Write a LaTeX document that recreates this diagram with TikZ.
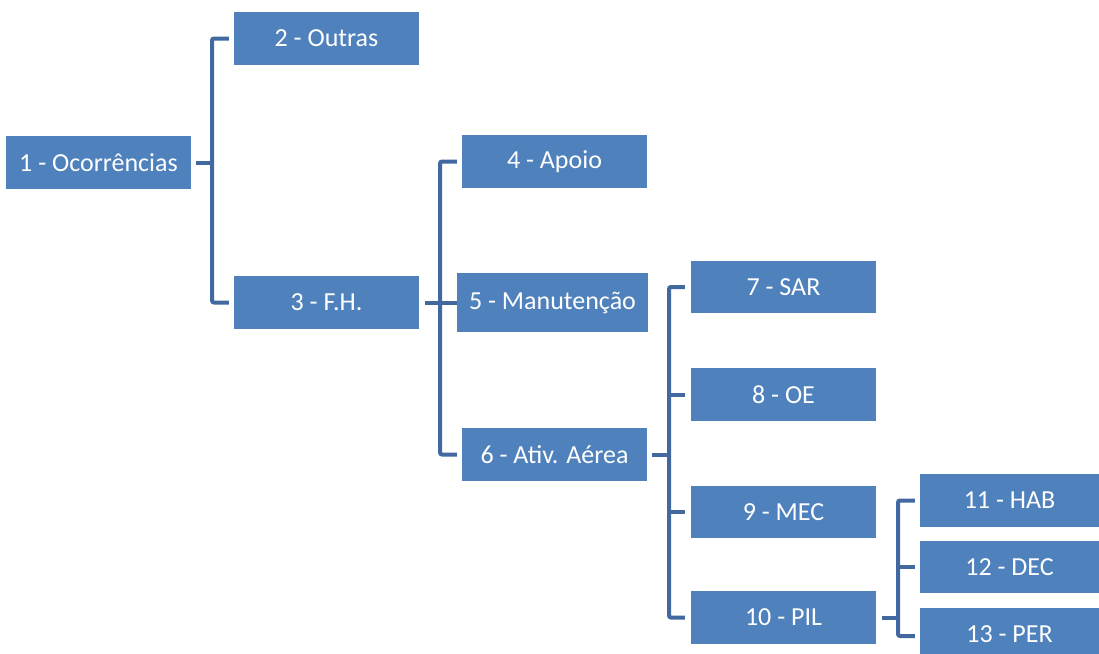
\documentclass[tikz,border=0pt]{standalone}
\usepackage{fontspec}
\setmainfont{Carlito}
\definecolor{boxblue}{HTML}{4F81BD}
\definecolor{lineblue}{HTML}{41699F}
\begin{document}
\begin{tikzpicture}[x=1pt,y=-1pt,
  box/.style={fill=boxblue, draw=none, text=white, inner sep=0pt,
    font=\fontsize{26}{30}\selectfont, minimum width=185pt, minimum height=53pt},
  conn/.style={draw=lineblue, line width=4pt, rounded corners=2pt}]
\useasboundingbox (0,0) rectangle (1099,653);
\clip (0,0) rectangle (1099,653);
\node[box] (n1) at (98.5,162.5) {1 - Ocorrências};
\node[box] (n2) at (326.5,38.5) {2 - Outras};
\node[box] (n3) at (326.5,302.5) {3 - F.H.};
\node[box] (n4) at (554.5,161.5) {4 - Apoio};
\node[box, minimum width=191pt, minimum height=59pt] (n5) at (552.5,302.5) {5 - Manutenção};
\node[box] (n6) at (554.5,454.5) {6 - Ativ. Aérea};
\node[box, minimum height=52pt] (n7) at (783.5,287) {7 - SAR};
\node[box] (n8) at (783.5,394.5) {8 - OE};
\node[box, minimum height=52pt] (n9) at (783.5,512) {9 - MEC};
\node[box] (n10) at (783.5,617.5) {10 - PIL};
\node[box, minimum width=179pt] (n11) at (1009.5,500.5) {11 - HAB};
\node[box, minimum width=179pt, minimum height=52pt] (n12) at (1009.5,567) {12 - DEC};
\node[box, minimum width=179pt] (n13) at (1009.5,634.5) {13 - PER};
% bracket x positions
\coordinate (b1) at (212,0);
\coordinate (b2) at (440,0);
\coordinate (b3) at (669,0);
\coordinate (b4) at (898,0);
\coordinate (e2) at (457,0);
% bracket 1
\draw[conn] ([xshift=5pt]n1.east) -- (n1.east -| b1);
\draw[conn] ([xshift=-5pt]n2.west) -- (n2.west -| b1) -- (n3.west -| b1) -- ([xshift=-5pt]n3.west);
% bracket 2
\draw[conn] ([xshift=6pt]n3.east) -- (n3.east -| b2);
\draw[conn] ([xshift=-5pt]n4.west) -- (n4.west -| b2) -- (n6.west -| b2) -- ([xshift=-5pt]n6.west);
\draw[conn] (n5.west -| b2) -- (n5.west -| e2);
% bracket 3
\draw[conn] ([xshift=5pt]n6.east) -- (n6.east -| b3);
\draw[conn] ([xshift=-6pt]n7.west) -- (n7.west -| b3) -- (n10.west -| b3) -- ([xshift=-6pt]n10.west);
\draw[conn] (n8.west -| b3) -- ([xshift=-6pt]n8.west);
\draw[conn] (n9.west -| b3) -- ([xshift=-6pt]n9.west);
% bracket 4
\draw[conn] ([xshift=6pt]n10.east) -- (n10.east -| b4);
\draw[conn] ([xshift=-5pt]n11.west) -- (n11.west -| b4) -- ([yshift=-1.5pt]n13.west -| b4) -- ([xshift=-5pt,yshift=-1.5pt]n13.west);
\draw[conn] (n12.west -| b4) -- ([xshift=-5pt]n12.west);
\end{tikzpicture}
\end{document}
